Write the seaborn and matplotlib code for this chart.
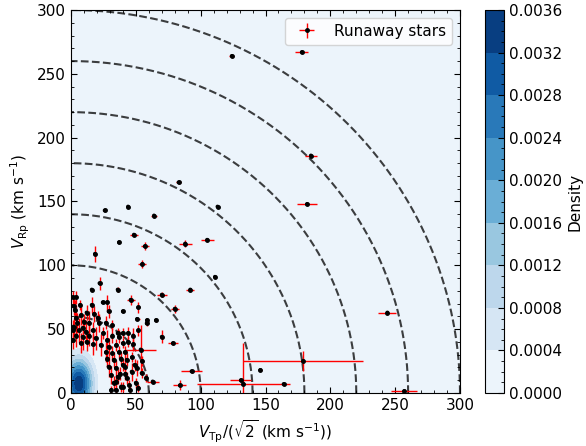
import numpy as np
import matplotlib
matplotlib.use("Agg")
import matplotlib.pyplot as plt
from matplotlib.ticker import MultipleLocator, FormatStrFormatter
import seaborn as sns
import pandas as pd

# ---------------- data ----------------
# Runaway stars: V_Tp/sqrt(2), V_Rp and their errors (km/s)
vtp = [124, 178, 185, 182, 113, 83, 26, 44, 64, 48.5, 37, 57, 88, 105, 55, 18.5,
       111, 22, 16, 36, 70, 92, 4, 46, 52, 29, 40, 24.5, 51, 58.6, 65.5, 80, 70,
       78.6, 84, 93, 146, 131, 133, 164, 179, 244, 257, 63, 50, 53.7,
       1.3, 7, 16, 28, 7.7, 12, 4, 20.6, 5, 10, 21.6, 27, 32, 1.3, 6, 11.6, 16.7,
       4, 9, 14, 19, 25, 28, 32, 37, 1.3, 7.7, 23, 29, 35, 40, 27, 32, 37, 28, 33,
       38.6, 29, 34.7, 40, 31, 36, 33, 38.6, 34.7,
       58.4, 36, 40, 44, 48, 52, 41.6, 43, 41.6, 46.8, 50.6, 38, 43, 54.5, 35, 40,
       45.5, 31, 3, 14, 18, 2, 9, 17, 12, 2,
       47, 49, 45, 52, 42, 48, 44, 55, 58]
vrp = [264, 267, 186, 148, 146, 165, 143, 146, 139, 124, 118, 115, 117, 120, 101, 109,
       91, 86, 81, 81, 77, 81, 75, 73, 67, 64, 64, 71, 58, 57, 57, 66, 44,
       39, 6, 17, 18, 10, 7, 7, 25, 63, 1.5, 9, 8, 34,
       75, 69, 69, 71, 61, 63, 59, 59, 55, 56, 55, 55, 53, 49, 49, 48, 49,
       45, 44, 45, 43, 47, 41.5, 45, 44, 41.5, 39, 37.6, 36, 37.6, 39, 32, 31, 32, 27, 26,
       27, 20.6, 19.6, 22, 14, 12.7, 8, 5, 2.3,
       54.6, 47, 47, 47, 45, 49, 32, 26, 20.6, 16.7, 19.6, 15, 11.7, 15.6, 9, 5,
       2.3, 2.3, 65, 55, 62, 52, 51, 38, 40, 68,
       28, 22, 6, 4, 15, 38, 40, 25, 12]
vtp_err = [2, 5, 4.5, 8, 0.5, 2, 0, 0, 2, 3, 0, 3, 5, 5, 3, 1,
           1, 1.5, 0, 0.5, 4, 3, 1, 3, 1, 1, 0, 0, 2, 1, 1, 3, 1,
           4, 5, 8, 1, 8, 36, 1, 46, 7, 10, 4.5, 0.5, 12,
           0.5, 0.5, 0.5, 0.5, 0.5, 0.5, 0.5, 1, 0.5, 0.5, 0.5, 0.5, 0.5, 0.5, 0.5, 0.5, 0.5,
           0.5, 0.5, 0.5, 0.5, 0.5, 0.5, 0.5, 0.5, 0.5, 0.5, 0.5, 0.5, 0.5, 0.5, 0.5, 0.5, 0.5, 0.5, 0.5,
           0.5, 0.5, 0.5, 0.5, 0.5, 0.5, 0.5, 0.5, 0.5,
           1, 0.5, 0.5, 0.5, 0.5, 0.5, 0.5, 0.5, 0.5, 0.5, 0.5, 0.5, 0.5, 0.5, 0.5, 0.5,
           0.5, 0.5, 0.5, 0.5, 0.5, 0.5, 0.5, 0.5, 0.5, 0.5,
           0.5, 0.5, 0.5, 0.5, 0.5, 0.5, 0.5, 0.5, 1]
vrp_err = [0.5, 0.8, 0.8, 0.8, 0.5, 1, 0, 0, 1, 1, 0, 3, 3, 1, 3, 6,
           1, 5, 0, 2, 2, 1, 5, 4, 4, 5, 0, 0, 1, 1, 1, 3, 5,
           1, 4, 1, 1, 1, 32, 1, 8, 0.5, 1, 1, 4, 19,
           5, 4, 6, 6, 8, 6, 10, 5, 8, 6, 7, 5, 4, 8, 10, 9, 7,
           9, 10, 8, 9, 5, 8, 6, 5, 7, 8, 9, 7, 5, 4, 8, 6, 5, 7, 6,
           5, 8, 6, 5, 7, 6, 5, 4, 3,
           2, 4, 4, 5, 6, 4, 5, 5, 6, 7, 6, 5, 5, 4, 4, 4,
           3, 3, 8, 9, 6, 7, 8, 8, 7, 7,
           4, 5, 4, 3, 5, 5, 4, 4, 3]

# Dashed reference circles (km/s)
circle_radii = [60, 100, 140, 180, 220, 260, 300]

# Density levels of the background population and its approximate model
density_levels = [0.0, 0.0004, 0.0008, 0.0012, 0.0016, 0.0020,
                  0.0024, 0.0028, 0.0032, 0.0036]
kde_center = (6.0, 7.5)
kde_sigma = (7.0, 13.0)
kde_peak = 0.0035

# ---------------- figure ----------------
fig = plt.figure(figsize=(5.86, 4.46), dpi=100)
ax = fig.add_axes([71 / 586, 1 - 393 / 446, 389 / 586, 383 / 446])
cax = fig.add_axes([485 / 586, 1 - 393 / 446, 19 / 586, 383 / 446])

gx = np.linspace(0, 300, 601)
gy = np.linspace(0, 300, 601)
X, Y = np.meshgrid(gx, gy)
Z = kde_peak * np.exp(-0.5 * (((X - kde_center[0]) / kde_sigma[0]) ** 2
                              + ((Y - kde_center[1]) / kde_sigma[1]) ** 2))
cf = ax.contourf(X, Y, Z, levels=density_levels, cmap="Blues", zorder=0)

theta = np.linspace(0, np.pi / 2, 400)
for r in circle_radii:
    ax.plot(r * np.cos(theta), r * np.sin(theta), ls="--", color="k",
            lw=1.5, alpha=0.75, zorder=1)

df = pd.DataFrame({"vtp": vtp, "vrp": vrp, "ex": vtp_err, "ey": vrp_err})
ax.errorbar(df["vtp"], df["vrp"], xerr=df["ex"], yerr=df["ey"], fmt="o", ms=2.5,
            mfc="k", mec="k", ecolor="red", elinewidth=1.0, capsize=0,
            label="Runaway stars", zorder=3)
sns.scatterplot(data=df, x="vtp", y="vrp", ax=ax, color="k", s=8,
                edgecolor="none", legend=False, zorder=4)

ax.set_xlim(0, 300)
ax.set_ylim(0, 300)
ax.set_xlabel(r"$V_{\rm Tp}/(\sqrt{2}$ (km s$^{-1}$))", fontsize=11)
ax.set_ylabel(r"$V_{\rm Rp}$ (km s$^{-1}$)", fontsize=11)
ax.xaxis.set_major_locator(MultipleLocator(50))
ax.yaxis.set_major_locator(MultipleLocator(50))
ax.xaxis.set_minor_locator(MultipleLocator(10))
ax.yaxis.set_minor_locator(MultipleLocator(10))
ax.tick_params(which="both", direction="in", top=True, right=True, labelsize=11)
ax.tick_params(which="major", length=4)
ax.tick_params(which="minor", length=2)

leg = ax.legend(loc="upper right", fontsize=11)

cb = fig.colorbar(cf, cax=cax, ticks=density_levels)
cb.ax.yaxis.set_major_formatter(FormatStrFormatter("%.4f"))
cb.ax.yaxis.set_minor_locator(MultipleLocator(0.0001))
cb.ax.tick_params(which="both", direction="in", labelsize=11)
cb.ax.tick_params(which="major", length=4)
cb.ax.tick_params(which="minor", length=2)
cb.set_label("Density", fontsize=11)

fig.savefig("out.png", dpi=100)
